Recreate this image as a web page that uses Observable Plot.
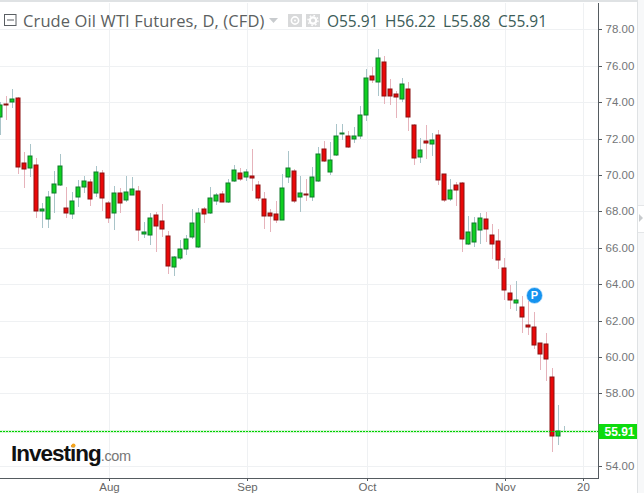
<!DOCTYPE html>
<html><head><meta charset="utf-8">
<script src="https://cdn.jsdelivr.net/npm/d3@7"></script>
<script src="https://cdn.jsdelivr.net/npm/@observablehq/plot@0.6"></script>
<style>
html,body{margin:0;padding:0;background:#fff;overflow:hidden}
#wrap{position:relative;width:644px;height:493px;overflow:hidden;font-family:"Liberation Sans",Arial,sans-serif}
#wrap svg{display:block}
.ov{position:absolute;white-space:nowrap}
#title{left:23px;top:9px;font:16.5px "Open Sans",sans-serif;color:#5c5f61;letter-spacing:.12px}
.ohlc{top:10px;font:15.5px "Open Sans",sans-serif;color:#3c5c58;letter-spacing:-.05px}
#logo{left:11px;top:441px;font:bold 22.5px "Liberation Sans",Arial,sans-serif;color:#111;letter-spacing:-1px}
#logo span{font:14.5px "Liberation Sans",Arial,sans-serif;color:#777;letter-spacing:-.4px}
</style></head><body>
<div id="wrap"></div>
<script>
const opens=[73.16,73.88,74.03,74.21,70.64,70.40,70.53,68.04,67.60,68.99,69.43,68.16,67.84,68.77,69.36,69.60,69.03,70.09,68.44,67.89,68.99,68.64,68.92,69.10,66.77,66.72,67.78,67.47,66.63,64.96,65.45,65.91,66.61,66.06,68.11,67.89,68.59,68.93,68.53,69.68,70.09,69.90,69.94,69.43,68.66,67.89,67.84,67.54,69.90,70.23,68.81,68.95,68.81,69.68,71.41,70.18,71.11,72.27,72.12,71.99,72.16,73.31,75.42,75.12,76.19,74.70,74.43,74.19,74.70,72.73,71.00,71.85,71.72,72.18,70.03,68.70,69.43,69.54,66.19,66.33,66.96,67.56,66.68,66.35,64.87,63.49,62.98,62.73,61.75,61.63,60.75,60.69,58.88,55.67,55.91];
const closes=[73.82,73.84,74.17,70.42,70.34,71.02,68.04,68.11,68.77,69.48,70.47,67.89,68.55,69.32,69.65,68.70,70.14,68.75,67.65,68.99,68.48,69.04,69.21,66.96,66.85,67.62,67.21,67.05,65.01,65.47,65.93,66.48,67.34,67.89,67.84,68.71,68.88,68.53,69.54,70.25,69.80,70.14,69.85,68.71,67.76,67.76,67.54,69.26,70.36,68.59,68.99,68.92,69.87,71.13,70.78,70.80,72.12,72.30,71.55,72.14,73.27,75.31,75.23,76.41,74.36,74.36,74.30,74.98,73.16,70.95,71.35,71.77,71.94,69.74,68.64,69.15,69.19,66.46,66.85,67.34,67.62,67.05,66.19,65.31,63.70,63.15,63.11,62.21,61.66,60.67,60.18,59.90,55.67,55.91,55.91];
const highs=[74.03,74.34,74.72,74.26,71.26,71.70,70.91,68.46,69.12,70.20,71.15,69.36,69.08,69.72,69.94,69.80,70.50,70.27,68.57,69.40,69.26,69.94,69.89,69.39,67.41,67.89,67.96,68.40,66.92,65.53,66.42,66.70,68.11,68.16,68.25,69.32,69.03,69.14,69.76,70.55,70.36,70.30,71.42,69.64,69.06,68.13,68.59,70.05,71.32,70.31,69.94,69.76,70.45,71.55,71.88,71.83,72.80,72.80,72.41,72.65,73.79,75.82,75.95,76.92,76.53,75.27,74.61,75.31,75.09,72.78,72.05,72.74,72.29,72.47,70.03,69.76,69.63,69.63,67.74,67.67,67.89,67.96,67.30,67.03,65.44,63.95,64.17,63.35,63.15,62.47,60.75,61.32,59.40,57.36,56.22];
const lows=[72.19,73.02,73.70,70.05,69.30,69.90,67.65,67.10,67.10,67.90,69.40,67.65,67.60,68.26,69.00,68.30,68.80,68.04,67.38,66.97,67.93,68.53,68.90,66.39,66.55,66.15,65.77,66.60,64.56,64.47,65.34,65.62,66.50,66.00,67.34,67.85,68.35,68.50,68.44,69.63,69.68,69.64,69.14,68.58,67.03,66.88,67.38,67.50,69.58,68.44,67.98,68.59,68.59,69.60,70.70,70.00,71.05,71.92,71.50,71.77,71.96,72.98,75.03,74.34,73.90,73.84,73.15,74.03,72.43,70.55,70.67,70.89,71.06,69.47,68.53,68.57,68.31,65.78,66.14,66.06,66.20,66.33,65.40,64.85,63.15,62.65,62.52,61.33,61.22,60.44,59.30,58.70,54.78,55.18,55.88];
const sessions=opens.map((_,i)=>i);
const priceTicks=[54,58,60,62,64,66,68,70,72,74,76,78];
const timeTicks=[18,41,61,84,97];
const timeLabels=["Aug","Sep","Oct","Nov","20"];
const lastPrice=55.91;
const ohlcLabels=["O","H","L","C"];
const ohlcValues=["55.91","56.22","55.88","55.91"];
const pennant=[{i:89,p:63.38,t:"P"}];

const up=i=>closes[i]>=opens[i];
const GRID="#eff1f3",AXIS="#555b60",TXT="#737678";

const tag=(index,scales,values,dim)=>{
  const y=scales.y(lastPrice),x=dim.width-dim.marginRight;
  const g=d3.create("svg:g");
  g.append("rect").attr("x",x+.5).attr("y",y-7).attr("width",39).attr("height",15).attr("fill","#0edb0e");
  g.append("text").attr("x",x+6.5).attr("y",y+.5).attr("dy","0.36em").attr("fill","#fff").attr("text-anchor","start")
    .attr("font-size",12).attr("font-weight","bold").attr("font-family","Liberation Sans").text(lastPrice.toFixed(2));
  return g.node();
};

const chart=Plot.plot({
  width:644,height:493,marginLeft:0,marginRight:46,marginTop:3,marginBottom:15,
  style:{background:"#fff",fontFamily:"Liberation Sans",overflow:"visible"},
  x:{type:"linear",domain:[0,598/6],range:[0,598],label:null},
  y:{type:"linear",domain:[53.35,79.445],round:true,label:null},
  marks:[
    Plot.ruleY(priceTicks,{stroke:GRID,strokeWidth:1}),
    Plot.ruleX(timeTicks,{stroke:GRID,strokeWidth:1,dx:1}),
    Plot.ruleY([lastPrice],{stroke:"#d9f6d9",strokeWidth:3}),
    Plot.ruleX(sessions,{x:i=>i,y1:i=>lows[i],y2:i=>highs[i],strokeWidth:1,
      stroke:i=>up(i)?"#a9c4c9":"#e6b3bb"}),
    Plot.rect(sessions,{x1:i=>i-1/3,x2:i=>i+1/3,y1:i=>opens[i],y2:i=>closes[i],
      fill:i=>up(i)?"#0fd020":"#ea0808",stroke:i=>up(i)?"#0f7a2a":"#8a1010",strokeWidth:1}),
    Plot.ruleY([lastPrice],{stroke:"#00d000",strokeWidth:1,strokeDasharray:"2,1"}),
    Plot.dot(pennant,{x:"i",y:"p",r:8,fill:"#1593ef",stroke:"#cfe8fb",strokeWidth:.8}),
    Plot.text(pennant,{x:"i",y:"p",text:"t",fill:"#fff",fontWeight:"bold",fontSize:11}),
    Plot.frame({anchor:"right",stroke:AXIS}),
    Plot.frame({anchor:"bottom",stroke:AXIS}),
    Plot.axisY(priceTicks,{anchor:"right",tickSize:3,tickPadding:4,stroke:AXIS,fill:TXT,fontSize:11.5,
      tickFormat:d=>d.toFixed(2),label:null}),
    Plot.axisX(timeTicks,{anchor:"bottom",tickSize:3,tickPadding:1.5,stroke:AXIS,fill:"#666",fontSize:11.5,dx:1,
      tickFormat:d=>timeLabels[timeTicks.indexOf(d)],label:null}),
    tag
  ]
});
const wrap=document.getElementById("wrap");
wrap.appendChild(chart);

const add=html=>wrap.insertAdjacentHTML("beforeend",html);
add('<div class="ov" style="left:0;top:0;width:644px;height:1.5px;background:#dfe2e4"></div>');
add('<div class="ov" style="left:637px;top:0;width:1px;height:493px;background:#dfe2e4"></div>');
add('<div class="ov" style="left:638px;top:0;width:6px;height:493px;background:#f7f8f9"></div>');
add('<div class="ov" style="left:638px;top:205px;width:6px;height:26px;background:#fff;border-top:1px solid #e4e6e8;border-bottom:1px solid #e4e6e8"></div>');
add('<svg class="ov" style="left:639px;top:214px" width="4" height="8"><path d="M0 0L4 4L0 8Z" fill="#c8cbce"/></svg>');
add('<svg class="ov" style="left:3px;top:13px" width="15" height="14"><rect x="1.5" y="1.5" width="11.5" height="11" fill="none" stroke="#5a5f63"/><path d="M4 7H11" stroke="#5a5f63"/></svg>');
add('<div class="ov" id="title">Crude Oil WTI Futures, D, (CFD)</div>');
add('<svg class="ov" style="left:269px;top:18px" width="9" height="5"><path d="M0 0H9L4.5 5Z" fill="#c8cbce"/></svg>');
add('<svg class="ov" style="left:288px;top:14px" width="32" height="13"><rect width="14" height="13" fill="#d8d9da"/><circle cx="7" cy="6.5" r="3.6" fill="none" stroke="#fff" stroke-width="1.6"/><circle cx="7" cy="6.5" r="1" fill="#fff"/><rect x="18" width="14" height="13" fill="#d8d9da"/><circle cx="25" cy="6.5" r="3.2" fill="none" stroke="#fff" stroke-width="2.2"/><circle cx="25" cy="6.5" r="5" fill="none" stroke="#fff" stroke-width="1.4" stroke-dasharray="1.6 2.3"/></svg>');
const ohlcX=[327,385,443,498];
ohlcLabels.forEach((l,k)=>add(`<div class="ov ohlc" style="left:${ohlcX[k]}px">${l}${ohlcValues[k]}</div>`));
add('<div class="ov" id="logo">Investing<span>.com</span></div>');
add('<svg class="ov" style="left:71px;top:443px" width="5" height="5"><circle cx="2.5" cy="2.5" r="2" fill="#f4a41c"/></svg>');
</script>
</body></html>
